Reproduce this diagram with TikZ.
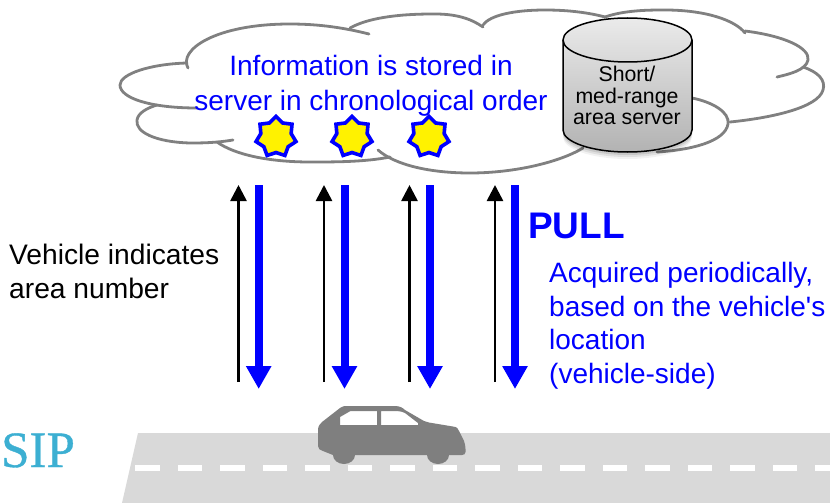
\documentclass[tikz,border=0pt]{standalone}
\usepackage{fontspec}
\setmainfont{Liberation Sans}
\newfontfamily\plainsans{Liberation Sans}
\newfontfamily\logofont{Liberation Serif}[FakeBold=0.7]
\usetikzlibrary{arrows.meta,shapes.geometric}
\definecolor{cloudgray}{RGB}{128,128,128}
\definecolor{roadgray}{RGB}{217,217,217}
\definecolor{cargray}{RGB}{127,127,127}
\definecolor{logoblue}{RGB}{60,175,210}
\tikzset{
  lobe/.style={draw=cloudgray,line width=2.8pt,line cap=round},
  starmark/.style={star,star points=7,star point ratio=1.32,minimum size=41pt,inner sep=0pt,draw=blue,line width=3.6pt,fill=yellow},
  uparrow/.style={draw=black,line width=2.6pt,-{Triangle[width=16pt,length=16pt]}},
  downarrow/.style={draw=blue,line width=8pt,-{Triangle[width=24pt,length=23pt]}},
  bluetext/.style={text=blue,align=left,font=\fontsize{28}{33.4}\selectfont,inner sep=0pt},
  blacktext/.style={text=black,align=left,font=\fontsize{28.2}{34}\selectfont,inner sep=0pt},
}
\begin{document}
\begin{tikzpicture}[x=1pt,y=-1pt]
\useasboundingbox (0,0) rectangle (830,503);
% cloud fill
\fill[white] (188,68) -- (290,24) -- (430,14) -- (547,10) -- (670,10) -- (807,57) -- (823,87) -- (730,122) -- (657,152) -- (470,173) -- (310,162) -- (190,143) -- (137,122) -- (120,85) -- cycle;
% cloud lobes
\draw[lobe] (188,68) .. controls (178,50) and (215,24) .. (290,24) .. controls (320,24) and (345,28) .. (369,34);
\draw[lobe] (350,28) .. controls (375,14) and (420,14) .. (435,14) .. controls (455,14) and (470,18) .. (483,27);
\draw[lobe] (483,25) .. controls (490,15) and (515,10) .. (545,10) .. controls (570,10) and (590,13) .. (605,17);
\draw[lobe] (605,17) .. controls (625,10) and (650,10) .. (665,10) .. controls (705,10) and (735,20) .. (745,33);
\draw[lobe] (745,31) .. controls (785,36) and (810,48) .. (808,60) .. controls (806,70) and (790,74) .. (777,77);
\draw[lobe] (803,67) .. controls (818,72) and (826,80) .. (823,90) .. controls (818,108) and (770,118) .. (730,122);
\draw[lobe] (692,98) .. controls (712,102) and (730,112) .. (728,124) .. controls (725,142) and (690,150) .. (657,152);
\draw[lobe] (583,148) .. controls (560,162) and (515,173) .. (470,173) .. controls (430,173) and (395,165) .. (378,150);
\draw[lobe] (390,157) .. controls (365,162) and (335,162) .. (310,162) .. controls (270,162) and (235,155) .. (217,142);
\draw[lobe] (233,140) .. controls (215,143) and (200,143) .. (190,143) .. controls (155,142) and (135,132) .. (137,120) .. controls (138,113) and (147,108) .. (157,105);
\draw[lobe] (197,108) .. controls (150,108) and (120,98) .. (120,85) .. controls (120,74) and (150,64) .. (187,63);
% server
\foreach \o/\d in {0.05/7,0.08/5,0.1/3}{
  \fill[black,opacity=\o] (563,130) arc[x radius=64.5,y radius=22,start angle=180,end angle=0] -- ++(0,\d) arc[x radius=64.5,y radius=22,start angle=0,end angle=180] -- cycle;
}
\path[top color=white!92!black,bottom color=black!30,draw=black,line width=1.5pt]
  (563,40) arc[x radius=64.5,y radius=22,start angle=180,end angle=360] -- (692,130) arc[x radius=64.5,y radius=22,start angle=0,end angle=180] -- cycle;
\draw[black,line width=1.5pt] (563,40) arc[x radius=64.5,y radius=22,start angle=180,end angle=0];
\node[align=center,inner sep=0pt,font=\fontsize{21.3}{21.6}\selectfont] (server) at (627,95.5) {Short/\\med-range\\area server};
% cloud text
\node[text=blue,align=center,inner sep=0pt,font=\fontsize{28}{35}\selectfont] (info) at (371,85.5) {Information is stored in\\server in chronological order};
% stars
\node[starmark] (s1) at (276,137) {};
\node[starmark] (s2) at (352,137) {};
\node[starmark] (s3) at (429,137) {};
% arrows
\foreach \n/\x in {1/238.5,2/324,3/409.5,4/495}{
  \coordinate (ub\n) at (\x,382);
  \coordinate (ut\n) at (\x,185);
  \draw[uparrow] (ub\n) -- (ut\n);
}
\foreach \n/\x in {1/258.7,2/344.5,3/430,4/515}{
  \coordinate (dt\n) at (\x,185);
  \coordinate (db\n) at (\x,389);
  \draw[downarrow] (dt\n) -- (db\n);
}
% texts
\node[blacktext,anchor=west] (veh) at (9,271) {Vehicle indicates\\area number};
\node[text=blue,anchor=west,inner sep=0pt,font=\fontsize{37}{39}\bfseries\selectfont] (pull) at (528,226) {PULL};
\node[bluetext,anchor=north west] (acq) at (549,262.5) {Acquired periodically,\\based on the vehicle{\plainsans\char39}s\\location\\(vehicle-side)};
% road
\fill[roadgray] (138,433) -- (830,433) -- (830,503) -- (122,503) -- cycle;
\foreach \i in {0,...,16}{
  \fill[white] ({135+42.5*\i},465) rectangle ({min(159.5+42.5*\i,830)},471);
}
% car
\fill[cargray,even odd rule]
  (322,422) -- (340,408) .. controls (343,406) and (345,406) .. (347,406) -- (395,406) .. controls (400,406) and (403,408) .. (405,410) -- (424,421) .. controls (426,422) and (427,422) .. (429,422.5) -- (453,426.5) .. controls (457,427) and (458,428) .. (459,431) -- (464,441) .. controls (465,444) and (465.5,446) .. (465.5,449) -- (465.5,452) .. controls (465.5,454) and (464,455) .. (462,455) -- (449,455) arc[x radius=11,y radius=9,start angle=0,end angle=180] -- (355,455) arc[x radius=11,y radius=9,start angle=0,end angle=180] -- (323,451) .. controls (320,450) and (318,449) .. (318,446) -- (318,430) .. controls (318,426) and (320,424) .. (322,422) -- cycle
  (340,425) -- (340,417) -- (347,413) .. controls (349,411) and (351,411) .. (353,411) -- (377,411) -- (377,425) -- cycle
  (381,425) -- (381,411) -- (397,411) .. controls (400,411) and (403,412) .. (405,413) -- (418,423) -- (418,425) -- cycle;
% logo
\node[text=logoblue,inner sep=0pt,anchor=base west,font=\logofont\fontsize{51}{51}\selectfont] (logo) at (1,467) {SIP};
\end{tikzpicture}
\end{document}
